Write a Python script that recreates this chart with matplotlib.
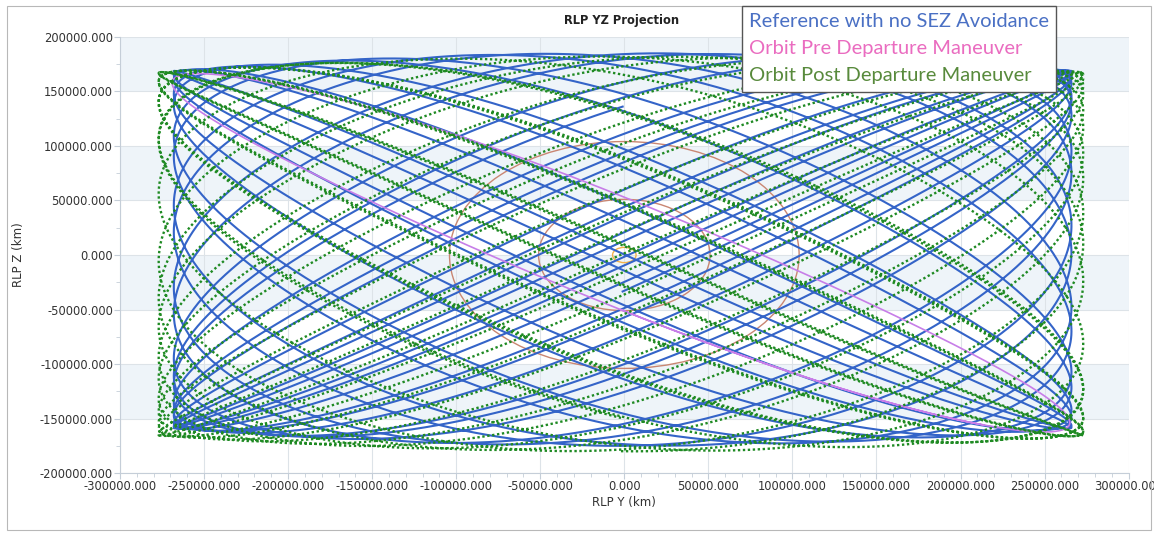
import matplotlib.pyplot as plt
import numpy as np
from matplotlib.lines import Line2D
from matplotlib.patches import Rectangle, Ellipse

# Orbit parameters (km):
# [y amplitude, z amplitude, y centre, z centre, z flattening toward the y edges]
ref_shape = [267000, 180000, -1000, 5000, 0.09]
pre_shape = [267000, 172000, -2000, 2000, 0.05]
post_shape = [275000, 181000, -2000, 1000, 0.08]

# [revolutions shown, drift of the z phase over them (cycles),
#  starting z phase (rad), how long the phase lingers near the diagonals (0..1)]
ref_motion = [21.0, 1.2, -0.3, 0.3]
pre_motion = [1.15, 0.0, 3.45, 0.0]
post_motion = [20.0, 0.93, -1.6, 0.3]

# Stay-out zone radii around the origin (km)
sez_radii = [104000, 51000, 7000]
sez_colors = ['#c98672', '#c98672', '#f2b24a']

y_ticks = np.arange(-300000, 300001, 50000)
z_ticks = np.arange(-200000, 200001, 50000)


def orbit(shape, motion, n=600):
    ay, az, yc, zc, flat = shape
    revs, drift, phase, linger = motion
    t = np.linspace(0, 2 * np.pi * revs, int(n * max(revs, 1)) + 400)
    psi = phase + 2 * np.pi * drift * t / t[-1]
    phi = psi - linger * np.sin(2 * psi) / 2
    y = ay * np.sin(t)
    z = az * np.sin(t + phi) * (1 - flat * (y / ay) ** 2)
    return y + yc, z + zc


fig = plt.figure(figsize=(11.54, 5.34), dpi=100)
ax = fig.add_axes([0.104, 0.114, 0.874, 0.817])

# alternating horizontal bands + grid, like the original tool
for k, z0 in enumerate(z_ticks[:-1]):
    if k % 2 == 1:
        ax.axhspan(z0, z0 + 50000, color='#eef4f9', zorder=0, lw=0)
for yt in y_ticks:
    ax.axvline(yt, color='#dde3e8', lw=0.8, zorder=0.5)
for zt in z_ticks:
    ax.axhline(zt, color='#dde3e8', lw=0.8, zorder=0.5)

# SEZ circles
for r, c in zip(sez_radii, sez_colors):
    ax.add_patch(Ellipse((0, 0), 2 * r, 2 * r, fill=False, ec=c, lw=1.0, zorder=2))

yb, zb = orbit(ref_shape, ref_motion)
ax.plot(yb, zb, color='#3464c8', lw=1.5, zorder=3)

yp, zp = orbit(pre_shape, pre_motion)
ax.plot(yp, zp, color='#c77ee8', lw=1.2, zorder=3.5)

yg, zg = orbit(post_shape, post_motion)
ax.plot(yg, zg, color='#1f8a23', lw=1.7, ls=(0, (1, 1.1)), zorder=4)

ax.set_xlim(-300000, 300000)
ax.set_ylim(-200000, 200000)
ax.set_xticks(y_ticks)
ax.set_yticks(z_ticks)
ax.set_xticks(np.arange(-300000, 300001, 10000), minor=True)
ax.set_yticks(np.arange(-200000, 200001, 25000), minor=True)
ax.xaxis.set_major_formatter(plt.FormatStrFormatter('%.3f'))
ax.yaxis.set_major_formatter(plt.FormatStrFormatter('%.3f'))
ax.tick_params(which='both', colors='#c5ced8', labelcolor='#333333', labelsize=8.3)
ax.tick_params(which='major', length=4, pad=1)
ax.tick_params(which='minor', length=3)
for s in ['top', 'right']:
    ax.spines[s].set_visible(False)
for s in ['left', 'bottom']:
    ax.spines[s].set_color('#c5ced8')

ax.set_xlabel('RLP Y (km)', fontsize=8.5, color='#333333', labelpad=2)
ax.set_ylabel('RLP Z (km)', fontsize=8.5, color='#333333', labelpad=11)
fig.text(0.539, 0.962, 'RLP YZ Projection', ha='center', va='center',
         fontsize=8.3, fontweight='bold', color='#222222')

# legend: coloured text only, no line handles
handles = [Line2D([], [], color='none') for _ in range(3)]
leg = fig.legend(handles,
                 ['Reference with no SEZ Avoidance', 'Orbit Pre Departure Maneuver',
                  'Orbit Post Departure Maneuver'],
                 loc='upper left', bbox_to_anchor=(742 / 1154, 1 - 6 / 534),
                 handlelength=0, handletextpad=0, borderpad=0.35, labelspacing=0.5,
                 borderaxespad=0, fancybox=False, framealpha=1, edgecolor='#555555',
                 labelcolor=['#4a70c4', '#ea6cc0', '#588a3c'],
                 prop={'family': ['Lato', 'DejaVu Sans'], 'size': 14.5})
leg.get_frame().set_linewidth(1.0)

# outer border of the panel
fig.patches.append(Rectangle((7 / 1154, 4 / 534), 1144 / 1154, 524 / 534,
                             transform=fig.transFigure, fill=False,
                             ec='#b8b8b8', lw=0.8))

plt.savefig('out.png', dpi=100)
